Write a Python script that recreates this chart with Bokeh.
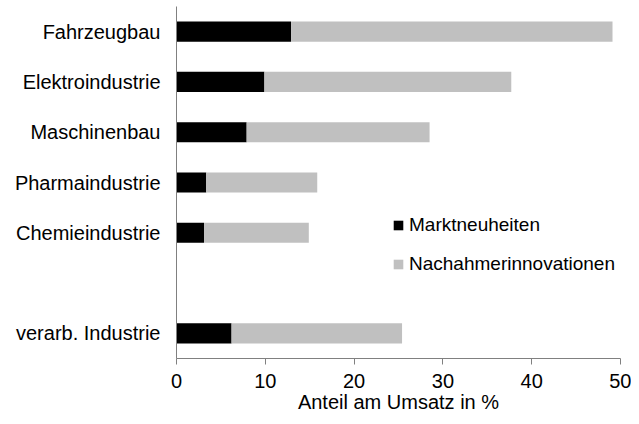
from bokeh.plotting import figure
from bokeh.models import FactorRange, Legend, LegendItem, ColumnDataSource, FixedTicker
from bokeh.embed import file_html
from bokeh.resources import INLINE

categories = ["Fahrzeugbau", "Elektroindustrie", "Maschinenbau", "Pharmaindustrie",
              "Chemieindustrie", " ", "verarb. Industrie"]
marktneuheiten = [12.9, 9.9, 7.9, 3.35, 3.1, 0.0, 6.2]
nachahmer_total = [49.1, 37.7, 28.5, 15.85, 14.9, 0.0, 25.4]
x_ticks = [0, 10, 20, 30, 40, 50]

FONT = "Liberation Sans"
FS = "20px"

factors = list(reversed(categories))
p = figure(width=631, height=416, y_range=FactorRange(factors=factors, range_padding=0),
           x_range=(0, 50), output_backend="svg", toolbar_location=None,
           min_border_left=176, min_border_right=11, min_border_top=6, min_border_bottom=58)
p.outline_line_color = None
p.grid.visible = False

src = ColumnDataSource(dict(cat=categories, m=marktneuheiten, total=nachahmer_total))
r1 = p.hbar(y="cat", left=0, right="m", height=0.4, source=src,
            fill_color="#000000", line_color=None)
r2 = p.hbar(y="cat", left="m", right="total", height=0.4, source=src,
            fill_color="#C0C0C0", line_color=None)

xa = p.xaxis[0]
xa.ticker = FixedTicker(ticks=x_ticks)
xa.minor_tick_line_color = None
xa.major_tick_in = 0
xa.major_tick_out = 6
xa.axis_line_color = "#808080"
xa.major_tick_line_color = "#808080"
xa.major_label_text_font = FONT
xa.major_label_text_font_size = FS
xa.major_label_text_color = "#000000"
xa.major_label_standoff = 9
xa.axis_label = "Anteil am Umsatz in %"
xa.axis_label_text_font = FONT
xa.axis_label_text_font_size = FS
xa.axis_label_text_font_style = "normal"
xa.axis_label_text_color = "#000000"
xa.axis_label_standoff = 0

ya = p.yaxis[0]
ya.major_tick_line_color = None
ya.minor_tick_line_color = None
ya.axis_line_color = "#808080"
ya.major_label_text_font = FONT
ya.major_label_text_font_size = FS
ya.major_label_text_color = "#000000"
ya.major_label_standoff = 10

legend = Legend(items=[LegendItem(label="Marktneuheiten", renderers=[r1]),
                       LegendItem(label="Nachahmerinnovationen", renderers=[r2])],
                location=(216, 83), orientation="vertical",
                border_line_alpha=0, background_fill_alpha=0,
                padding=0, margin=0, spacing=17,
                glyph_width=12, glyph_height=12, label_standoff=5,
                label_text_font=FONT, label_text_font_size="19px", label_text_color="#000000")
p.add_layout(legend, "center")

open("out.html", "w").write(file_html(p, INLINE))
